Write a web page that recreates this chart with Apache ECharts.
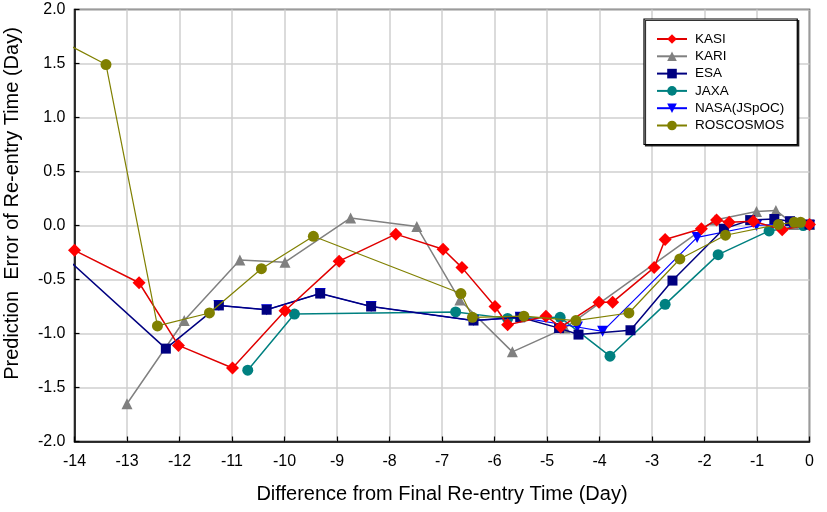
<!DOCTYPE html>
<html>
<head>
<meta charset="utf-8">
<script src="https://cdn.jsdelivr.net/npm/echarts@6/dist/echarts.min.js"></script>
<style>html,body{margin:0;padding:0;background:#fff}#c{width:827px;height:512px}</style>
</head>
<body>
<div id="c"></div>
<script>
// ---- data ----
var seriesNames = ['KASI', 'KARI', 'ESA', 'JAXA', 'NASA(JSpOC)', 'ROSCOSMOS'];

var kasiX = [-14, -12.77, -12.02, -10.99, -9.99, -8.96, -7.88, -6.98, -6.62, -5.99, -5.75, -5.02, -4.74, -4.01, -3.75, -2.96, -2.75, -2.06, -1.77, -1.53, -1.07, -0.52, 0];
var kasiY = [-0.23, -0.53, -1.11, -1.32, -0.79, -0.33, -0.08, -0.22, -0.39, -0.75, -0.92, -0.84, -0.94, -0.71, -0.71, -0.39, -0.13, -0.03, 0.05, 0.03, 0.04, -0.04, 0.01];

var kariX = [-13.0, -11.91, -10.85, -9.99, -8.74, -7.48, -6.66, -5.66, -4.66, -1.80, -1.01, -0.64, -0.30, 0];
var kariY = [-1.65, -0.88, -0.32, -0.34, 0.07, -0.01, -0.69, -1.17, -0.95, 0.05, 0.13, 0.14, 0.01, 0.01];

var esaX = [-14.3, -12.26, -11.25, -10.34, -9.32, -8.35, -6.40, -5.51, -4.77, -4.40, -3.41, -2.61, -1.63, -1.13, -0.67, -0.37, 0];
var esaY = [-0.24, -1.14, -0.74, -0.78, -0.63, -0.75, -0.88, -0.85, -0.95, -1.01, -0.97, -0.51, -0.03, 0.05, 0.06, 0.04, 0.01];

var jaxaX = [-10.70, -9.81, -6.74, -5.75, -4.75, -3.80, -2.75, -1.74, -0.77, -0.12];
var jaxaY = [-1.34, -0.82, -0.80, -0.86, -0.85, -1.21, -0.73, -0.27, -0.05, 0.0];

var nasaX = [-11.25, -10.34, -9.32, -8.35, -6.40, -5.51, -4.42, -3.94, -2.14, -1.01, -0.37, 0];
var nasaY = [-0.74, -0.78, -0.63, -0.75, -0.88, -0.85, -0.94, -0.98, -0.11, 0.0, 0.02, 0.0];

var rosX = [-14.5, -13.40, -12.42, -11.43, -10.44, -9.45, -6.64, -6.42, -5.44, -4.45, -3.44, -2.47, -1.60, -0.59, -0.29, -0.17];
var rosY = [1.77, 1.49, -0.93, -0.81, -0.40, -0.10, -0.63, -0.85, -0.84, -0.88, -0.81, -0.31, -0.09, 0.01, 0.03, 0.03];

var xTicks = [-14, -13, -12, -11, -10, -9, -8, -7, -6, -5, -4, -3, -2, -1, 0];
var yTicks = [-2.0, -1.5, -1.0, -0.5, 0.0, 0.5, 1.0, 1.5, 2.0];

function pairs(xs, ys) { return xs.map(function (x, i) { return [x, ys[i]]; }); }

var font = '"Liberation Sans", Arial, sans-serif';

var chart = echarts.init(document.getElementById('c'));

function mk(name, xs, ys, color, symbol, size, extra) {
  var s = {
    name: name,
    type: 'line',
    data: pairs(xs, ys),
    symbol: symbol,
    symbolSize: size,
    showAllSymbol: true,
    clip: true,
    lineStyle: { color: color, width: 1.5 },
    itemStyle: { color: color },
    emphasis: { disabled: true },
    animation: false
  };
  if (extra) for (var k in extra) s[k] = extra[k];
  return s;
}

var option = {
  animation: false,
  backgroundColor: '#fff',
  grid: { left: 74.5, right: 17.5, top: 9.5, bottom: 70.5, show: true, borderColor: '#000', borderWidth: 1.5,
    containLabel: false, outerBoundsMode: 'none' },
  legend: {
    orient: 'vertical',
    left: 644,
    top: 19,
    padding: [13, 13, 12, 12],
    itemWidth: 30,
    itemHeight: 12,
    itemGap: 3.3,
    backgroundColor: '#fff',
    borderColor: '#000',
    borderWidth: 1.2,
    shadowColor: 'rgba(0,0,0,0.8)',
    shadowOffsetX: 1.5,
    shadowOffsetY: 1.5,
    shadowBlur: 0,
    textStyle: { fontFamily: font, fontSize: 13.5, color: '#000', padding: [0, 0, 0, 3] },
    data: seriesNames
  },
  xAxis: {
    type: 'value',
    min: -14, max: 0, interval: 1,
    name: 'Difference from Final Re-entry Time (Day)',
    nameLocation: 'middle',
    nameGap: 43,
    nameTextStyle: { fontFamily: font, fontSize: 20, color: '#000' },
    axisLine: { show: true, onZero: false, lineStyle: { color: '#000', width: 1.5 } },
    axisTick: { show: true, inside: true, length: 5, lineStyle: { color: '#000', width: 1.2 } },
    axisLabel: { fontFamily: font, fontSize: 16, color: '#000', margin: 12,
      formatter: function (v) { return xTicks.indexOf(v) >= 0 ? String(v) : ''; } },
    splitLine: { show: true, lineStyle: { color: '#cfcfcf', width: 1.5 } }
  },
  yAxis: {
    type: 'value',
    min: -2, max: 2, interval: 0.5,
    name: 'Prediction  Error of Re-entry Time (Day)',
    nameLocation: 'middle',
    nameGap: 52,
    nameTextStyle: { fontFamily: font, fontSize: 20, color: '#000', padding: [0, 0, 0, 44] },
    axisLine: { show: true, onZero: false, lineStyle: { color: '#000', width: 1.5 } },
    axisTick: { show: true, inside: true, length: 5, lineStyle: { color: '#000', width: 1.2 } },
    axisLabel: { fontFamily: font, fontSize: 16, color: '#000', margin: 9,
      formatter: function (v) { return v.toFixed(1); } },
    splitLine: { show: true, lineStyle: { color: '#cfcfcf', width: 1.5 } }
  },
  series: [
    mk('KASI', kasiX, kasiY, '#ff0000', 'diamond', 13, { z: 6, lineStyle: { color: '#e00000', width: 1.5 } }),
    mk('KARI', kariX, kariY, '#808080', 'triangle', 11, { z: 3 }),
    mk('ESA', esaX, esaY, '#000080', 'rect', 10, { z: 5 }),
    mk('JAXA', jaxaX, jaxaY, '#008080', 'circle', 11, { z: 4 }),
    mk('NASA(JSpOC)', nasaX, nasaY, '#0000ff', 'triangle', 11, { z: 4, symbolRotate: 180, lineStyle: { color: '#0000ff', width: 1.2 } }),
    mk('ROSCOSMOS', rosX, rosY, '#808000', 'circle', 11, { z: 7, lineStyle: { color: '#808000', width: 1.2 } })
  ]
};
chart.setOption(option);
</script>
</body>
</html>
